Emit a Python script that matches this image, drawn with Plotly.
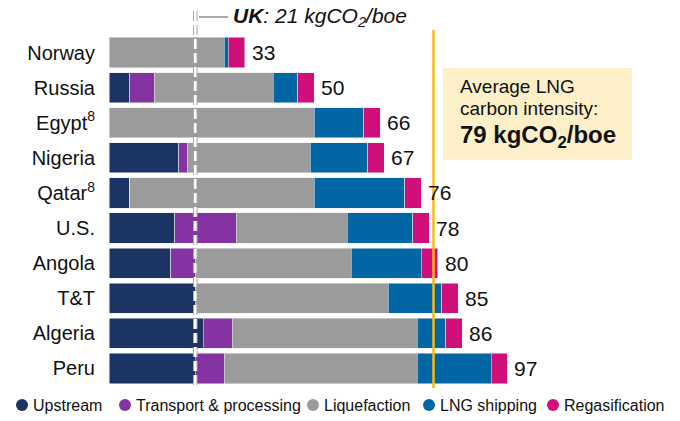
import plotly.graph_objects as go

countries = ["Norway", "Russia", "Egypt<sup>8</sup>", "Nigeria", "Qatar<sup>8</sup>",
             "U.S.", "Angola", "T&T", "Algeria", "Peru"]
upstream = [0, 5, 0, 17, 5, 16, 15, 21, 23, 21]
transport = [0, 6, 0, 2, 0, 15, 6, 0, 7, 7]
liquefaction = [28, 29, 50, 30, 45, 27, 38, 47, 45, 47]
shipping = [1, 6, 12, 14, 22, 16, 17, 13, 7, 18]
regas = [4, 4, 4, 4, 4, 4, 4, 4, 4, 4]
totals = [33, 50, 66, 67, 76, 78, 80, 85, 86, 97]

series_names = ["Upstream", "Transport & processing", "Liquefaction", "LNG shipping", "Regasification"]
series_values = [upstream, transport, liquefaction, shipping, regas]
colors = ["#1B3463", "#8533A3", "#9B9B9B", "#0066A4", "#D10F7A"]

uk_value = 21
avg_value = 79

FONT = "Liberation Sans, Arial, sans-serif"

fig = go.Figure()
for name, vals, col in zip(series_names, series_values, colors):
    fig.add_trace(go.Bar(
        y=countries, x=vals, name=name, orientation="h",
        marker=dict(color=col, line=dict(width=0.6, color="rgba(235,235,235,0.9)")),
        showlegend=False, hoverinfo="x+name",
    ))

# plot area geometry (px): left 109, width 534, top 35, height 351
L, W, T, H = 109, 534, 35, 351
def px(x):
    return (x - L) / W
def py(y):
    return (T + H - y) / H

annotations = []
for c, t in zip(countries, totals):
    annotations.append(dict(x=t, y=c, xref="x", yref="y", text=str(t), showarrow=False,
                            xanchor="left", yanchor="middle", xshift=5,
                            font=dict(family=FONT, size=21, color="#111111")))

# UK label
annotations.append(dict(x=px(231), y=py(17), xref="paper", yref="paper", showarrow=False,
                        xanchor="left", yanchor="middle",
                        text="<b><i>UK</i></b><i>: %d kgCO<sub>2</sub>/boe</i>" % uk_value,
                        font=dict(family=FONT, size=21, color="#111111")))

# Average box text
annotations.append(dict(x=px(458), y=py(86), xref="paper", yref="paper", showarrow=False,
                        xanchor="left", yanchor="middle", text="Average LNG",
                        font=dict(family=FONT, size=19, color="#111111")))
annotations.append(dict(x=px(458), y=py(108), xref="paper", yref="paper", showarrow=False,
                        xanchor="left", yanchor="middle", text="carbon intensity:",
                        font=dict(family=FONT, size=19, color="#111111")))
annotations.append(dict(x=px(458), y=py(136), xref="paper", yref="paper", showarrow=False,
                        xanchor="left", yanchor="middle",
                        text="<b>%d kgCO<sub>2</sub>/boe</b>" % avg_value,
                        font=dict(family=FONT, size=24, color="#111111")))

shapes = []
# Average box
shapes.append(dict(type="rect", xref="paper", yref="paper", x0=px(443), x1=px(632),
                   y0=py(160), y1=py(68), fillcolor="#FDF0C9", line=dict(width=0), layer="below"))
# UK dashed line (gray outline + white core)
shapes.append(dict(type="line", xref="x", yref="paper", x0=uk_value, x1=uk_value,
                   y0=py(385), y1=py(8), line=dict(color="#A8A8A8", width=4.5, dash="10px,4px"),
                   layer="above"))
shapes.append(dict(type="line", xref="x", yref="paper", x0=uk_value, x1=uk_value,
                   y0=py(385), y1=py(8), line=dict(color="#FFFFFF", width=2.5, dash="10px,4px"),
                   layer="above"))
# UK connector
shapes.append(dict(type="line", xref="paper", yref="paper", x0=px(199), x1=px(228),
                   y0=py(17), y1=py(17), line=dict(color="#8C8C8C", width=1.5)))
# Average line
shapes.append(dict(type="line", xref="x", yref="paper", x0=avg_value, x1=avg_value,
                   y0=py(388), y1=py(30), line=dict(color="#FDB813", width=2.5), layer="above"))

# Custom legend (dots + labels)
legend_x = [22, 125, 313, 429, 553]
for name, col, lx in zip(series_names, colors, legend_x):
    shapes.append(dict(type="circle", xref="paper", yref="paper",
                       xsizemode="pixel", ysizemode="pixel",
                       xanchor=px(lx), yanchor=py(405), x0=-6, x1=6, y0=-6, y1=6,
                       fillcolor=col, line=dict(width=0)))
    annotations.append(dict(x=px(lx + 9), y=py(405), xref="paper", yref="paper", showarrow=False,
                            xanchor="left", yanchor="middle", text=name,
                            font=dict(family=FONT, size=16, color="#111111")))

fig.update_layout(
    barmode="stack", bargap=0.14,
    width=680, height=421,
    margin=dict(l=L, r=680 - L - W, t=T, b=421 - T - H, pad=0, autoexpand=False),
    paper_bgcolor="white", plot_bgcolor="white",
    font=dict(family=FONT, color="#111111"),
    xaxis=dict(range=[0, 130], visible=False, showgrid=False, zeroline=False, automargin=False),
    yaxis=dict(range=[9.5, -0.5], showgrid=False, zeroline=False, showline=False,
               automargin=False,
               ticks="outside", ticklen=9, tickcolor="rgba(0,0,0,0)",
               tickfont=dict(family=FONT, size=20, color="#111111")),
    annotations=annotations, shapes=shapes,
    showlegend=False,
)

fig.write_html("out.html", config={"displayModeBar": False},
               post_script="document.body.style.margin='0px';document.body.style.padding='0px';")
